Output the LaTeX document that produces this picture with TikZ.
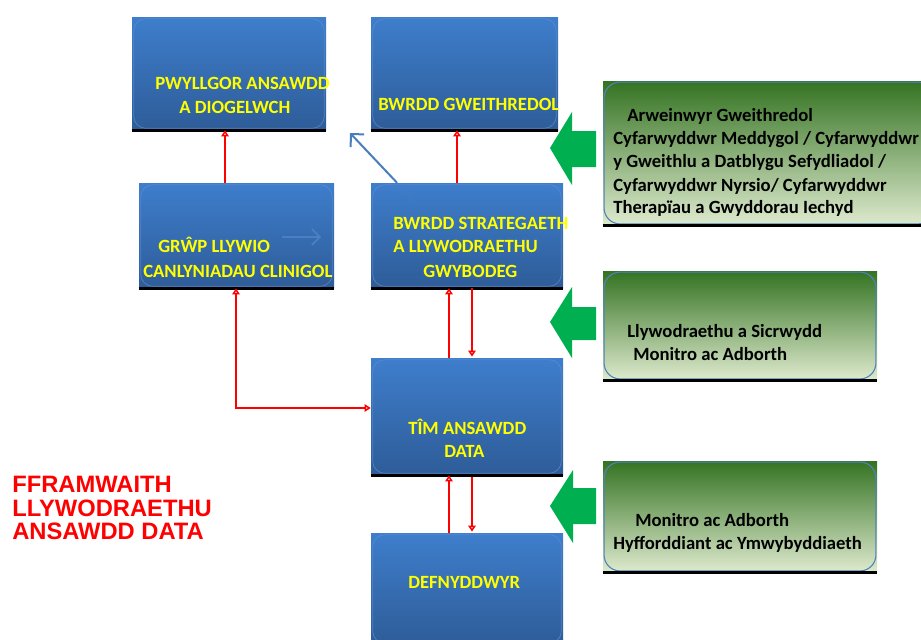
\documentclass[tikz,border=0pt]{standalone}
\usepackage{fontspec}
\setmainfont{Carlito}
\newfontfamily\titlefont{Liberation Sans}
\usetikzlibrary{arrows.meta,fit,calc}
\definecolor{bluetop}{RGB}{62,126,204}
\definecolor{bluebot}{RGB}{46,92,152}
\definecolor{blueline}{RGB}{96,140,205}
\definecolor{greentop}{RGB}{52,115,34}
\definecolor{greenmid}{RGB}{145,178,98}
\definecolor{greenbot}{RGB}{222,234,206}
\definecolor{greenline}{RGB}{79,129,189}
\definecolor{arrowgreen}{RGB}{0,176,80}
\definecolor{txtyellow}{RGB}{255,255,0}
\definecolor{bluearrow}{RGB}{74,126,187}
\definecolor{faintblue}{RGB}{90,140,208}
\tikzset{
  bluebox/.style={inner sep=0pt, shading=axis, top color=bluetop, bottom color=bluebot, draw=none},
  greenbox/.style={inner sep=0pt, shading=axis, top color=greentop, middle color=greenmid, bottom color=greenbot, draw=none},
  boxtext/.style={inner sep=0pt, anchor=base west, text=txtyellow, font=\bfseries\fontsize{14}{17}\selectfont},
  gtext/.style={inner sep=0pt, anchor=base west, text=black, font=\bfseries\fontsize{14}{17}\selectfont},
  titletext/.style={inner sep=0pt, anchor=base west, text=red, font=\titlefont\bfseries\fontsize{17.8}{18}\selectfont},
  redarr/.style={draw=red, line width=1.5pt, -{Triangle[open, length=4.5pt, width=5.5pt]}},
  redarrboth/.style={draw=red, line width=1.5pt, {Triangle[open, length=4.5pt, width=5.5pt]}-{Triangle[open, length=4.5pt, width=5.5pt]}},
  bluearr/.style={draw=bluearrow, line width=1.5pt, -{Straight Barb[length=7pt, width=14pt]}},
  faintarr/.style={draw=faintblue, line width=1.2pt, -{Straight Barb[length=6pt, width=12pt]}},
  bottomline/.style={draw=black, line width=2.2pt},
  innerblue/.style={draw=blueline, line width=0.6pt, rounded corners=9pt, opacity=0.7},
  innergreen/.style={draw=greenline, line width=0.8pt, rounded corners=12pt},
  greenblock/.style={fill=arrowgreen, draw=none}
}
\begin{document}
\begin{tikzpicture}[x=0.75pt, y=-0.75pt]
\useasboundingbox (0,0) rectangle (921,639);
\clip (0,0) rectangle (921,639);

% blue boxes
\node[bluebox, fit={(132,17)(326,130)}] (pw) {};
\node[bluebox, fit={(371,17)(558,130)}] (gw) {};
\node[bluebox, fit={(139,183)(334,288)}] (grp) {};
\node[bluebox, fit={(371,183)(563,288)}] (st) {};
\node[bluebox, fit={(371,358)(563,475)}] (tim) {};
\node[bluebox, fit={(371,533)(563,645)}] (def) {};
\foreach \b in {pw,gw,grp,st,tim,def}{
  \draw[innerblue] ([shift={(1.5pt,1.5pt)}]\b.south west) rectangle ([shift={(-1.5pt,-1.5pt)}]\b.north east);
  \draw[bottomline] (\b.south west) -- (\b.south east);
}

% green boxes
\node[greenbox, fit={(603,81)(935,225)}] (g1) {};
\node[greenbox, fit={(603,271)(877,380)}] (g2) {};
\node[greenbox, fit={(603,461)(877,572)}] (g3) {};
\foreach \b in {g1,g2,g3}{
  \draw[innergreen] ([shift={(1pt,1pt)}]\b.south west) rectangle ([shift={(-1pt,-1pt)}]\b.north east);
  \draw[bottomline] (\b.south west) -- (\b.south east);
}

% box texts
\node[boxtext] (pwA) at (155,89) {PWYLLGOR ANSAWDD};
\node[boxtext] (pwB) at (179,113) {A DIOGELWCH};
\node[boxtext] (gwA) at (378,110) {BWRDD GWEITHREDOL};
\node[boxtext] (grpA) at (158,252) {GRŴP LLYWIO};
\node[boxtext] (grpB) at (143,277) {CANLYNIADAU CLINIGOL};
\node[boxtext] (stA) at (393,229) {BWRDD STRATEGAETH};
\node[boxtext] (stB) at (393,252) {A LLYWODRAETHU};
\node[boxtext] (stC) at (423,277) {GWYBODEG};
\node[boxtext] (timA) at (408,434) {TÎM ANSAWDD};
\node[boxtext] (timB) at (444,457) {DATA};
\node[boxtext] (defA) at (408,588) {DEFNYDDWYR};

% green texts
\node[gtext] (g1a) at (627,121) {Arweinwyr Gweithredol};
\node[gtext] (g1b) at (613,144) {Cyfarwyddwr Meddygol / Cyfarwyddwr};
\node[gtext] (g1c) at (613,167) {y Gweithlu a Datblygu Sefydliadol /};
\node[gtext] (g1d) at (613,191) {Cyfarwyddwr Nyrsio/ Cyfarwyddwr};
\node[gtext] (g1e) at (613,213) {Therapïau a Gwyddorau Iechyd};
\node[gtext] (g2a) at (627,337) {Llywodraethu a Sicrwydd};
\node[gtext] (g2b) at (633,360) {Monitro ac Adborth};
\node[gtext] (g3a) at (635,526) {Monitro ac Adborth};
\node[gtext] (g3b) at (613,549) {Hyfforddiant ac Ymwybyddiaeth};

% title
\node[titletext] (t1) at (12,492) {FFRAMWAITH};
\node[titletext] (t2) at (12,516) {LLYWODRAETHU};
\node[titletext] (t3) at (12,539) {ANSAWDD DATA};

% green block arrows
\fill[greenblock] (550,148) -- (572,112) -- (572,131) -- (596,131) -- (596,167) -- (572,167) -- (572,185) -- cycle;
\fill[greenblock] (550,322) -- (572,287) -- (572,307) -- (596,307) -- (596,340) -- (572,340) -- (572,358) -- cycle;
\fill[greenblock] (550,506) -- (573,470) -- (573,488) -- (596,488) -- (596,524) -- (573,524) -- (573,543) -- cycle;

% column coordinates
\coordinate (xa) at (225,0);
\coordinate (xb) at (457,0);
\coordinate (xc) at (449,0);
\coordinate (xd) at (472,0);
\coordinate (xe) at (236,0);
\coordinate (xf) at (397,0);
\coordinate (yh) at (0,408);
\coordinate (bt) at (350,133);
\coordinate (bin) at (413,201);
\coordinate (fa) at (282,237);
\coordinate (fb) at (321,237);

% red connectors
\draw[redarr] (grp.north -| xa) -- (pw.south -| xa);
\draw[redarr] (st.north -| xb) -- (gw.south -| xb);
\draw[redarr] (tim.north -| xc) -- (st.south -| xc);
\draw[redarr] (st.south -| xd) -- ([yshift=0.8pt]tim.north -| xd);
\draw[redarrboth] (grp.south -| xe) |- (tim.west |- yh);
\draw[redarr] (def.north -| xc) -- (tim.south -| xc);
\draw[redarr] ([yshift=-1.5pt]tim.south -| xd) -- ([yshift=0.8pt]def.north -| xd);

% blue connectors
\draw[draw=bluearrow, line width=1.5pt, opacity=0.35] (bin) -- (st.north -| xf);
\draw[bluearr] (st.north -| xf) -- (bt);
\draw[faintarr, opacity=0.6] (fa) -- (fb);
\end{tikzpicture}
\end{document}
